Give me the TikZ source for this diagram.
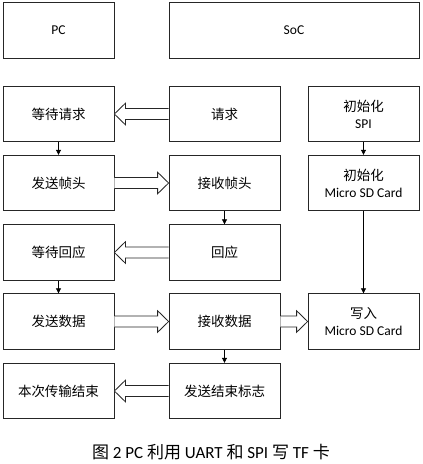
\documentclass[tikz,border=0pt]{standalone}
\usepackage{fontspec}
\setmainfont{Carlito}
\newfontfamily\cjk{Noto Sans CJK SC}
\usepackage{tikz}
\usetikzlibrary{positioning}
\usetikzlibrary{calc}
\usetikzlibrary{arrows.meta}
\tikzset{
  box/.style={draw=black!85, line width=0.8pt, minimum width=111pt, minimum height=55.5pt,
    inner sep=0pt, align=center, font=\fontsize{13.5}{17}\selectfont},
  flow/.style={draw=black, line width=0.7pt, -{Triangle[length=5pt,width=5pt]}},
  hollow/.style={draw=black!85, line width=0.8pt, fill=white},
}
% hollow block arrow from #1 (tail) to #2 (tip)
\newcommand{\hollowarrow}[2]{%
\coordinate (hb) at ($(#2)!11pt!(#1)$);
\draw[hollow] ($(#1)!5.5pt!90:(#2)$) -- ($(hb)!5.5pt!90:(#2)$) -- ($(hb)!10.8pt!90:(#2)$)
  -- (#2) -- ($(hb)!10.8pt!-90:(#2)$) -- ($(hb)!5.5pt!-90:(#2)$) -- ($(#1)!5.5pt!-90:(#2)$);
}

\begin{document}
\begin{tikzpicture}[x=1pt,y=-1pt]
\useasboundingbox (0,0) rectangle (423,464);
\node[box] (pc) at (58.5,30.5) {PC};
\node[box, minimum width=250pt] (soc) at (294,30.5) {SoC};
% PC column
\node[box] (waitreq) at (58.5,114) {\cjk 等待请求};
\node[box] (sendhead) at (58.5,183) {\cjk 发送帧头};
\node[box] (waitack) at (58.5,252.5) {\cjk 等待回应};
\node[box] (senddata) at (58.5,321.5) {\cjk 发送数据};
\node[box] (done) at (58.5,391) {\cjk 本次传输结束};
% SoC column
\node[box] (req) at (224.5,114) {\cjk 请求};
\node[box] (recvhead) at (224.5,183) {\cjk 接收帧头};
\node[box] (ack) at (224.5,252.5) {\cjk 回应};
\node[box] (recvdata) at (224.5,321.5) {\cjk 接收数据};
\node[box] (sendend) at (224.5,391) {\cjk 发送结束标志};
% SPI column
\node[box] (initspi) at (363.5,114) {{\cjk 初始化}\\SPI};
\node[box] (initsd) at (363.5,183) {{\cjk 初始化}\\Micro SD Card};
\node[box] (writesd) at (363.5,321.5) {{\cjk 写入}\\Micro SD Card};
% thin arrows
\draw[flow] (waitreq) -- (sendhead);
\draw[flow] (recvhead) -- (ack);
\draw[flow] (waitack) -- (senddata);
\draw[flow] (recvdata) -- (sendend);
\draw[flow] (initspi) -- (initsd);
\draw[flow] (initsd) -- (writesd);
% block arrows
\hollowarrow{req.west}{waitreq.east}
\hollowarrow{sendhead.east}{recvhead.west}
\hollowarrow{ack.west}{waitack.east}
\hollowarrow{senddata.east}{recvdata.west}
\hollowarrow{recvdata.east}{writesd.west}
\hollowarrow{sendend.west}{done.east}
\node[font=\fontsize{17}{20}\selectfont] (caption) at (211,452)
  {{\cjk 图} 2 PC {\cjk 利用} UART {\cjk 和} SPI {\cjk 写} TF {\cjk 卡}};
\end{tikzpicture}
\end{document}
